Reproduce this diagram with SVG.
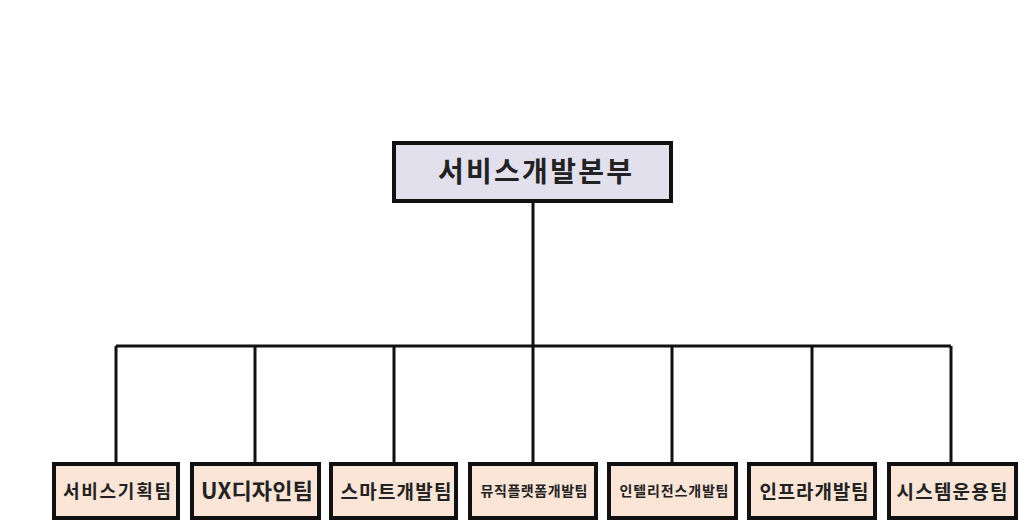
<svg xmlns="http://www.w3.org/2000/svg" width="1024" height="527" viewBox="0 0 1024 527">
<style>
.box{stroke:#111;stroke-width:4}
.sh{fill:#111}
.top{fill:#e3e0ee}
.team{fill:#fbe5d6}
.t{font-family:"Noto Sans CJK KR","Noto Sans",sans-serif;font-weight:bold;fill:#222;text-anchor:middle;dominant-baseline:central}
.conn{stroke:#111;stroke-width:3;fill:none}
</style>
<rect width="1024" height="527" fill="#fff"/>
<g id="connectors">
<path class="conn" d="M533 203V346M116 346H951M116 346V463M255 346V463M394 346V463M533 346V463M672 346V463M812 346V463M951 346V463"/>
</g>
<g id="root"><rect class="box top" x="394" y="143" width="277" height="58"/><text class="t" x="535" y="170" font-size="28" textLength="194" lengthAdjust="spacing">서비스개발본부</text></g>
<g id="n1"><rect class="box team" x="54" y="464" width="124" height="54"/><text class="t" x="117" y="490" font-size="18" textLength="108" lengthAdjust="spacing">서비스기획팀</text></g>
<g id="n2"><rect class="box team" x="192" y="464" width="127" height="54"/><text class="t" x="257" y="489" font-size="22" textLength="112" lengthAdjust="spacing">UX디자인팀</text></g>
<g id="n3"><rect class="box team" x="331" y="464" width="125" height="54"/><text class="t" x="396" y="490" font-size="19" textLength="111" lengthAdjust="spacing">스마트개발팀</text></g>
<g id="n4"><rect class="box team" x="470" y="464" width="126" height="54"/><text class="t" x="534" y="490" font-size="14" textLength="107" lengthAdjust="spacing">뮤직플랫폼개발팀</text></g>
<g id="n5"><rect class="box team" x="609" y="464" width="127" height="54"/><text class="t" x="674" y="490" font-size="14" textLength="109" lengthAdjust="spacing">인텔리전스개발팀</text></g>
<g id="n6"><rect class="box team" x="749" y="464" width="126" height="54"/><text class="t" x="814" y="490" font-size="19" textLength="109" lengthAdjust="spacing">인프라개발팀</text></g>
<g id="n7"><rect class="box team" x="889" y="464" width="127" height="54"/><text class="t" x="952" y="490" font-size="19" textLength="111" lengthAdjust="spacing">시스템운용팀</text></g>
</svg>
